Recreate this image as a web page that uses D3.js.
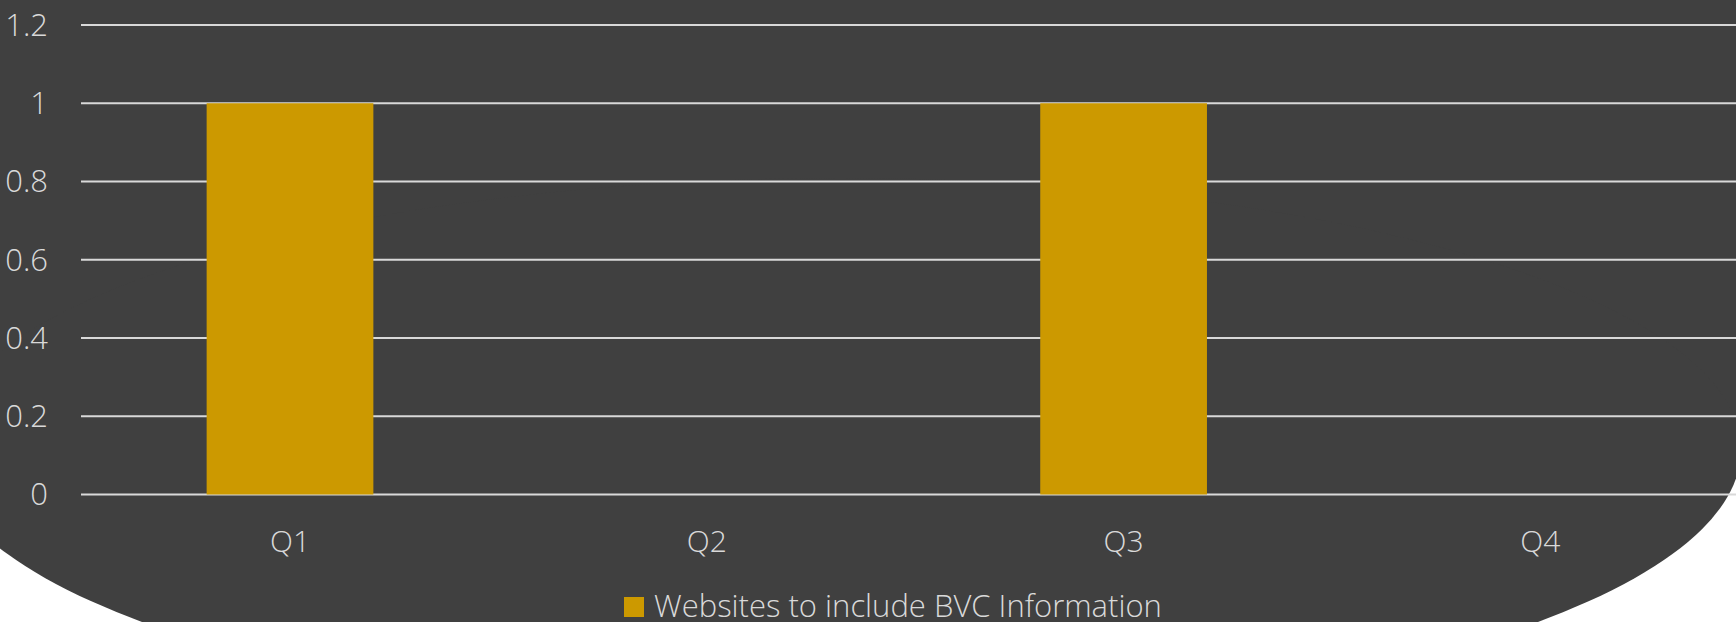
<!DOCTYPE html>
<html>
<head>
<meta charset="utf-8">
<script src="https://cdn.jsdelivr.net/npm/d3@7/dist/d3.min.js"></script>
<style>
  body { margin: 0; background: #fff; }
  text { font-family: "Segoe UI Light", "Open Sans", sans-serif; font-weight: 300; fill: #d9d9d9; }
</style>
</head>
<body>
<svg></svg>
<script>
var width = 1736;
var height = 622;

var quarters = ["Q1", "Q2", "Q3", "Q4"];
var websites = [1, 0, 1, 0];
var yTicks = [0, 0.2, 0.4, 0.6, 0.8, 1, 1.2];
var seriesName = "Websites to include BVC Information";

var svg = d3.select("svg").attr("width", width).attr("height", height);

// dark backdrop: straight top part + big ellipse at the bottom
svg.append("rect")
  .attr("x", 0).attr("y", 0)
  .attr("width", width).attr("height", 450)
  .attr("fill", "#404040");
svg.append("ellipse")
  .attr("cx", 840).attr("cy", 450)
  .attr("rx", 901).attr("ry", 272)
  .attr("fill", "#404040");

var x = d3.scaleBand()
  .domain(quarters)
  .range([81.6, 1748.8])
  .paddingInner(0.6)
  .paddingOuter(0.3);

var y = d3.scaleLinear()
  .domain([0, 1.2])
  .range([494.5, 25]);

// gridlines
svg.append("g")
  .attr("class", "grid")
  .selectAll("line")
  .data(yTicks)
  .enter()
  .append("line")
  .attr("x1", 81)
  .attr("x2", width)
  .attr("y1", function(d) { return y(d); })
  .attr("y2", function(d) { return y(d); })
  .attr("stroke", "#d9d9d9")
  .attr("stroke-width", 2);

// y labels
svg.append("g")
  .selectAll("text")
  .data(yTicks)
  .enter()
  .append("text")
  .attr("x", 48)
  .attr("y", function(d) { return y(d); })
  .attr("dy", "0.35em")
  .attr("text-anchor", "end")
  .style("font-size", "31px")
  .text(function(d) { return d3.format("")(d); });

// bars
svg.append("g")
  .selectAll("rect")
  .data(websites)
  .enter()
  .append("rect")
  .attr("x", function(d, i) { return x(quarters[i]); })
  .attr("y", function(d) { return y(d); })
  .attr("width", x.bandwidth())
  .attr("height", function(d) { return y(0) - y(d); })
  .attr("fill", "#cc9900");

// category labels
svg.append("g")
  .selectAll("text")
  .data(quarters)
  .enter()
  .append("text")
  .attr("x", function(d) { return x(d) + x.bandwidth() / 2; })
  .attr("y", 552)
  .attr("text-anchor", "middle")
  .style("font-size", "30px")
  .text(function(d) { return d; });

// legend
var legend = svg.append("g").attr("transform", "translate(624,597)");
legend.append("rect")
  .attr("width", 20).attr("height", 20)
  .attr("fill", "#cc9900");
legend.append("text")
  .attr("x", 30)
  .attr("y", 20)
  .style("font-size", "31px")
  .text(seriesName);
</script>
</body>
</html>
